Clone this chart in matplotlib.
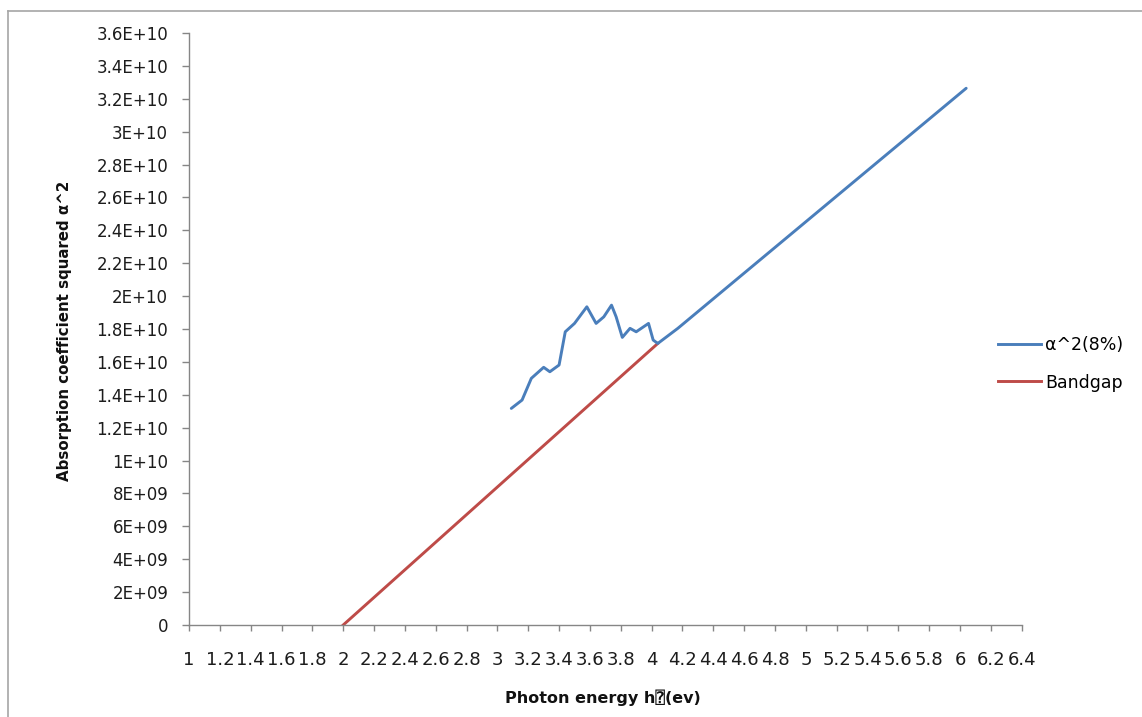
import matplotlib
matplotlib.use("Agg")
import matplotlib.pyplot as plt
from matplotlib.lines import Line2D
import numpy as np

# Photon energy (eV) and squared absorption coefficient for the 8% sample
energy = [3.09, 3.16, 3.22, 3.30, 3.34, 3.40, 3.44, 3.50, 3.58, 3.64,
          3.69, 3.74, 3.77, 3.81, 3.86, 3.90, 3.98, 4.01, 4.04, 4.17, 6.04]
alpha_sq = [1.317e10, 1.368e10, 1.500e10, 1.567e10, 1.540e10, 1.581e10,
            1.783e10, 1.834e10, 1.935e10, 1.834e10, 1.874e10, 1.945e10,
            1.874e10, 1.749e10, 1.804e10, 1.783e10, 1.834e10, 1.733e10,
            1.712e10, 1.804e10, 3.264e10]

# Linear extrapolation of the absorption edge down to the energy axis
bandgap_energy = [2.0, 4.04]
bandgap_alpha_sq = [0.0, 1.712e10]

x_ticks = [round(1.0 + 0.2 * i, 1) for i in range(28)]
y_ticks = [2e9 * i for i in range(19)]
y_tick_labels = ["0", "2E+09", "4E+09", "6E+09", "8E+09", "1E+10", "1.2E+10",
                 "1.4E+10", "1.6E+10", "1.8E+10", "2E+10", "2.2E+10", "2.4E+10",
                 "2.6E+10", "2.8E+10", "3E+10", "3.2E+10", "3.4E+10", "3.6E+10"]

series_names = ["\u03b1^2(8%)", "Bandgap"]
blue = "#4A7EBB"
red = "#BE4B48"
axis_gray = "#868686"

W, H = 1142, 717
fig = plt.figure(figsize=(W / 100, H / 100), dpi=100)
fig.patch.set_facecolor("white")

left, right, bottom, top = 189, 1021.7, 625, 33
ax = fig.add_axes([left / W, 1 - bottom / H, (right - left) / W, (bottom - top) / H])

ax.plot(energy, alpha_sq, color=blue, lw=2.1, solid_capstyle="round",
        solid_joinstyle="round", zorder=3)
ax.plot(bandgap_energy, bandgap_alpha_sq, color=red, lw=2.1, zorder=2)

ax.set_xlim(1.0, 6.4)
ax.set_ylim(0, 3.6e10)
ax.set_xticks(x_ticks)
ax.set_xticklabels([f"{v:g}" for v in x_ticks])
ax.set_yticks(y_ticks)
ax.set_yticklabels(y_tick_labels)

for side in ("top", "right"):
    ax.spines[side].set_visible(False)
for side in ("left", "bottom"):
    ax.spines[side].set_color(axis_gray)
    ax.spines[side].set_linewidth(1.0)

ax.tick_params(axis="x", direction="out", length=4.5, width=1.0, color=axis_gray,
               pad=14, labelsize=13, labelcolor="#1c1c1c")
ax.tick_params(axis="y", direction="out", length=5, width=1.0, color=axis_gray,
               pad=10, labelsize=12, labelcolor="#1c1c1c")

fig.text(603 / W, 1 - 698 / H, "Photon energy h\u2370(ev)",
         family=["DejaVu Sans", "DejaVu Sans Mono"], fontweight="bold",
         fontsize=11.5, ha="center", va="center", color="#111111")
fig.text(65 / W, 1 - 331 / H, "Absorption coefficient squared \u03b1^2",
         fontweight="bold", fontsize=10.8, rotation=90,
         ha="center", va="center", color="#111111")

handles = [Line2D([], [], color=blue, lw=2.1), Line2D([], [], color=red, lw=2.1)]
fig.legend(handles, series_names, loc="center left",
           bbox_to_anchor=(998 / W, 1 - 364 / H), frameon=False,
           fontsize=12.5, handlelength=2.5, handletextpad=0.2,
           labelspacing=1.1, borderpad=0, borderaxespad=0)

# Chart-area border
fig.add_artist(Line2D([8 / W, 8 / W], [0, 1 - 10.5 / H], color="#A6A6A6", lw=1.2,
                      transform=fig.transFigure))
fig.add_artist(Line2D([8 / W, 1], [1 - 10.5 / H, 1 - 10.5 / H], color="#A6A6A6",
                      lw=1.2, transform=fig.transFigure))

fig.savefig("out.png", dpi=100)
